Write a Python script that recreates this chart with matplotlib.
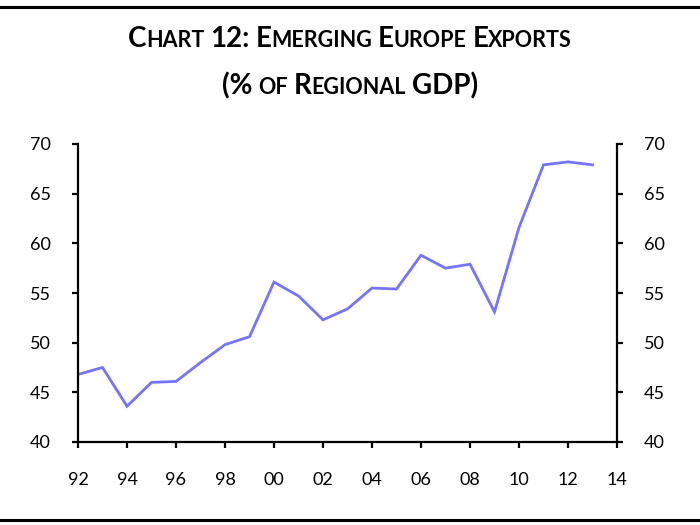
import matplotlib
matplotlib.use("Agg")
import matplotlib.pyplot as plt
from matplotlib.lines import Line2D

years = list(range(1992, 2014))
exports = [46.8, 47.5, 43.6, 46.0, 46.1, 48.0, 49.8, 50.6, 56.1, 54.7, 52.3,
           53.4, 55.5, 55.4, 58.8, 57.5, 57.9, 53.1, 61.6, 67.9, 68.2, 67.9]
x_ticks = list(range(1992, 2015, 2))
x_labels = ["92", "94", "96", "98", "00", "02", "04", "06", "08", "10", "12", "14"]
y_ticks = [40, 45, 50, 55, 60, 65, 70]
title_line1 = "Chart 12: Emerging Europe Exports"
title_line2 = "(% of Regional GDP)"

FONT = "Lato"
plt.rcParams["font.family"] = [FONT, "DejaVu Sans"]

fig = plt.figure(figsize=(7, 5.25), dpi=100)
ax = fig.add_axes([78/700, 1-442/525, (617-78)/700, (442-144)/525])

ax.plot(years, exports, color="#7474FF", linewidth=2.0, solid_joinstyle="miter")
ax.set_xlim(1992, 2014)
ax.set_ylim(40, 70)
ax.set_xticks(x_ticks)
ax.set_xticklabels(x_labels)
ax.set_yticks(y_ticks)
ax.spines["top"].set_visible(False)
for s in ["left", "right", "bottom"]:
    ax.spines[s].set_linewidth(1.6)
ax.tick_params(axis="y", which="both", direction="out", length=4.5, width=1.6,
               left=True, right=True, labelleft=True, labelright=True,
               labelsize=13, pad=15)
ax.tick_params(axis="x", direction="out", length=4.5, width=1.6, labelsize=13, pad=17)

# border lines
fig.add_artist(Line2D([0, 1], [1-7/525, 1-7/525], transform=fig.transFigure,
                      color="black", linewidth=2.2))
fig.add_artist(Line2D([0, 1], [1-520/525, 1-520/525], transform=fig.transFigure,
                      color="black", linewidth=2.2))

# small caps title
BIG, SMALL = 20, 15.5

def runs_of(text):
    runs = []
    for word_i, word in enumerate(text.split(" ")):
        if word_i > 0:
            runs.append((" ", None))
        cur, cur_big = "", None
        for ch in word:
            is_big = not ch.islower()
            if cur_big is None or is_big == cur_big:
                cur += ch
                cur_big = is_big
            else:
                runs.append((cur, cur_big))
                cur, cur_big = ch, is_big
        if cur:
            runs.append((cur, cur_big))
    return runs

renderer = fig.canvas.get_renderer()

def draw_smallcaps(text, ypix):
    runs = runs_of(text)
    items = []
    total = 0.0
    for s, big in runs:
        if big is None:
            w = 0.26 * SMALL * 100 / 72
            items.append((None, w))
        else:
            size = BIG if big else SMALL
            t = fig.text(0, 1 - ypix/525, s.upper(), fontsize=size, fontweight="bold",
                         ha="left", va="baseline", family=[FONT, "DejaVu Sans"])
            w = t.get_window_extent(renderer).width
            items.append((t, w))
        total += w
    x = (700 - total) / 2
    for t, w in items:
        if t is not None:
            t.set_x(x / 700)
        x += w

draw_smallcaps(title_line1, 47)
draw_smallcaps(title_line2, 94)

fig.savefig("out.png", dpi=100)
